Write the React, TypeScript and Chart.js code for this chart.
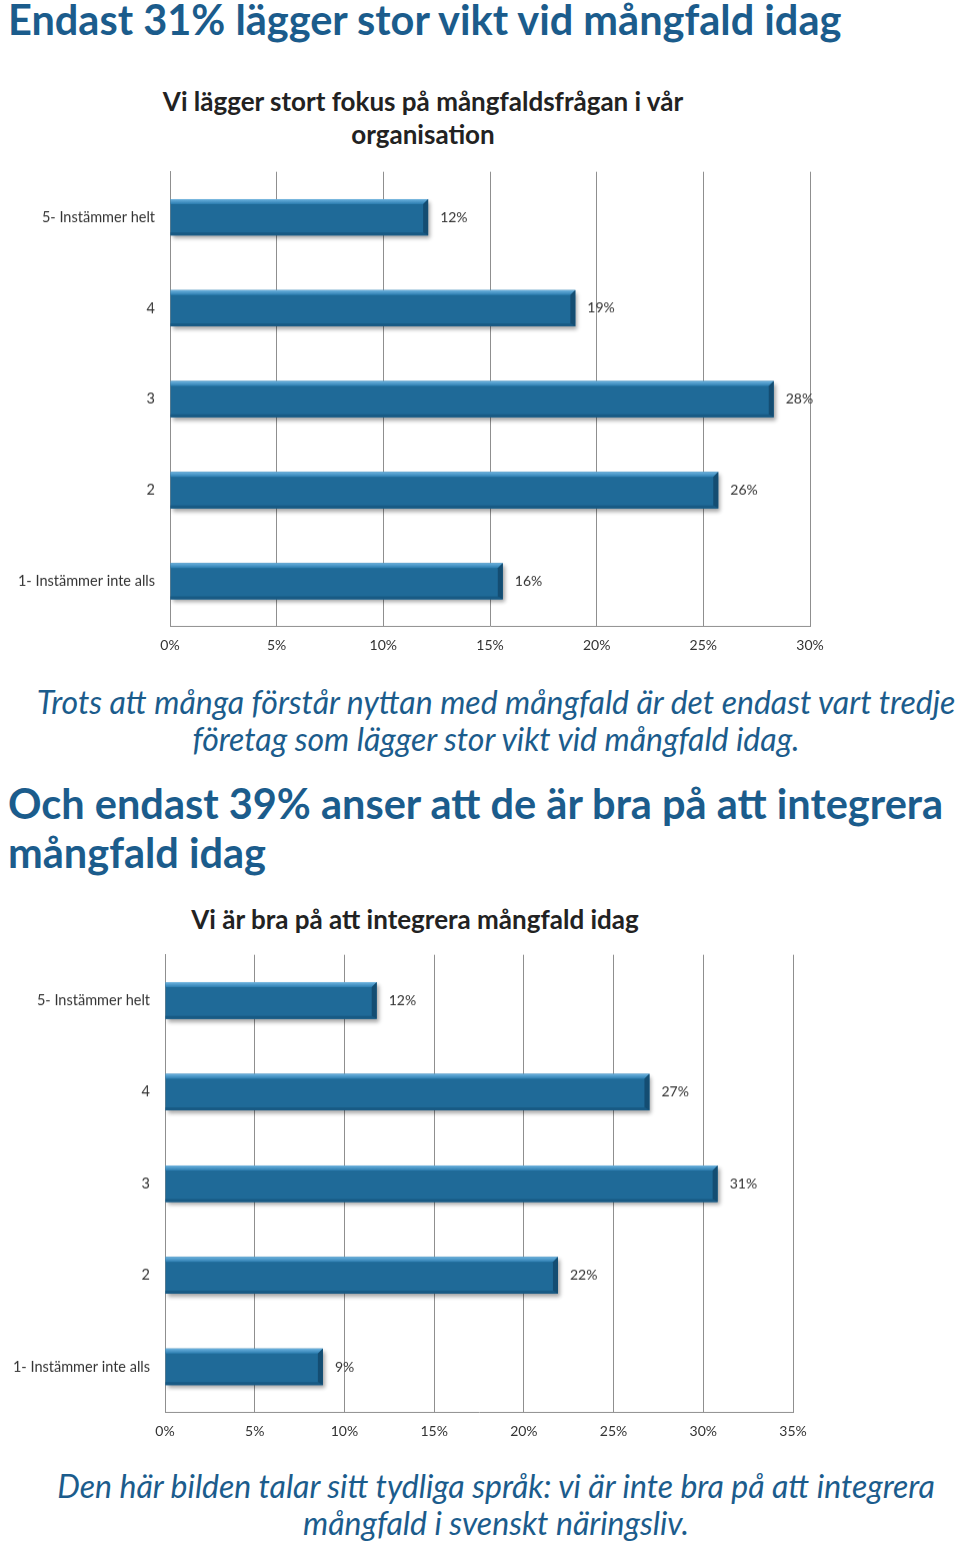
import React, { useEffect, useRef } from "react";
import { Chart, registerables } from "chart.js";

Chart.register(...registerables);

const categories = ["5- Instämmer helt", "4", "3", "2", "1- Instämmer inte alls"];
const focusValues = [12.1, 19.0, 28.3, 25.7, 15.6];
const integrateValues = [11.8, 27.0, 30.8, 21.9, 8.8];
const focusMax = 30;
const integrateMax = 35;
const tickStep = 5;

const BLUE_TEXT = "#1b5c8c";
const FONT = "Lato, 'Open Sans', sans-serif";
const X_AXIS_H = 44;

const bevelPlugin = {
  id: "bevel",
  beforeDatasetsDraw(chart: any) {
    const ctx = chart.ctx;
    ctx.save();
    ctx.shadowColor = "rgba(0,0,0,0.35)";
    ctx.shadowBlur = 4;
    ctx.shadowOffsetX = 2;
    ctx.shadowOffsetY = 3;
  },
  afterDatasetsDraw(chart: any) {
    const ctx = chart.ctx;
    ctx.restore();
    const meta = chart.getDatasetMeta(0);
    const data = chart.data.datasets[0].data as number[];
    meta.data.forEach((el: any, i: number) => {
      const p = el.getProps(["x", "y", "base", "height"], true);
      const top = p.y - p.height / 2;
      const bot = p.y + p.height / 2;
      const b = 5;
      ctx.save();
      const g = ctx.createLinearGradient(0, top, 0, top + b);
      g.addColorStop(0, "#6db3df");
      g.addColorStop(1, "#2c7db0");
      ctx.fillStyle = g;
      ctx.beginPath();
      ctx.moveTo(p.base, top);
      ctx.lineTo(p.x, top);
      ctx.lineTo(p.x - b, top + b);
      ctx.lineTo(p.base, top + b);
      ctx.closePath();
      ctx.fill();
      ctx.fillStyle = "#185a84";
      ctx.beginPath();
      ctx.moveTo(p.base, bot);
      ctx.lineTo(p.x, bot);
      ctx.lineTo(p.x - b, bot - 3);
      ctx.lineTo(p.base, bot - 3);
      ctx.closePath();
      ctx.fill();
      ctx.fillStyle = "#144d72";
      ctx.beginPath();
      ctx.moveTo(p.x, top);
      ctx.lineTo(p.x, bot);
      ctx.lineTo(p.x - b, bot - 3);
      ctx.lineTo(p.x - b, top + b);
      ctx.closePath();
      ctx.fill();
      ctx.fillStyle = "#333";
      ctx.font = `14px ${FONT}`;
      ctx.textAlign = "left";
      ctx.textBaseline = "middle";
      ctx.fillText(`${Math.round(data[i])}%`, p.x + 12, p.y);
      ctx.restore();
    });
  },
};

function BarChart({
  values,
  max,
  axisWidth,
  padRight,
  plotTop,
  plotBottom,
}: {
  values: number[];
  max: number;
  axisWidth: number;
  padRight: number;
  plotTop: number;
  plotBottom: number;
}) {
  const ref = useRef<HTMLCanvasElement>(null);
  const wrap = useRef<HTMLDivElement>(null);
  useEffect(() => {
    const chart = new Chart(ref.current!, {
      type: "bar",
      data: {
        labels: categories,
        datasets: [
          {
            data: values,
            backgroundColor: "#1f6a98",
            borderWidth: 0,
            barPercentage: 0.4,
            categoryPercentage: 1,
          },
        ],
      },
      options: {
        indexAxis: "y",
        animation: false,
        responsive: false,
        maintainAspectRatio: false,
        layout: { padding: { top: 0, right: padRight, left: 0, bottom: 0 } },
        plugins: { legend: { display: false }, tooltip: { enabled: false }, title: { display: false } },
        scales: {
          x: {
            min: 0,
            max: max,
            ticks: {
              stepSize: tickStep,
              padding: 10,
              color: "#333",
              font: { family: FONT, size: 14 },
              callback: (v: any) => `${v}%`,
            },
            grid: { color: "#8f8f8f", lineWidth: 1, drawTicks: false },
            border: { color: "#8f8f8f", width: 1 },
            afterFit: (s: any) => {
              s.height = X_AXIS_H;
            },
          },
          y: {
            ticks: { padding: 15, color: "#333", font: { family: FONT, size: 14.5 } },
            grid: { display: false, drawTicks: false },
            border: { color: "#8f8f8f", width: 1 },
            afterFit: (s: any) => {
              s.width = axisWidth;
            },
          },
        },
      },
      plugins: [bevelPlugin],
    } as any);
    const off = chart.chartArea.top;
    const top = plotTop - off;
    const h = plotBottom + X_AXIS_H - top;
    if (wrap.current) wrap.current.style.top = `${top}px`;
    chart.resize(960, h);
    return () => chart.destroy();
  }, []);
  return (
    <div ref={wrap} style={{ position: "absolute", top: plotTop, left: 0, width: 960 }}>
      <canvas ref={ref} width={960} height={plotBottom - plotTop + X_AXIS_H + 30} style={{ display: "block" }} />
    </div>
  );
}

const abs = (top: number, extra: React.CSSProperties = {}): React.CSSProperties => ({
  position: "absolute",
  top,
  left: 0,
  width: 960,
  whiteSpace: "nowrap",
  fontFamily: FONT,
  ...extra,
});

export default function App() {
  return (
    <div style={{ position: "absolute", top: 0, left: 0, width: 960, height: 1545, background: "#fff", overflow: "hidden" }}>
      <div style={abs(-3, { left: 8, fontSize: 41.5, lineHeight: "44px", fontWeight: 700, color: BLUE_TEXT })}>
        Endast 31% lägger stor vikt vid mångfald idag
      </div>
      <div style={abs(84.5, { width: 846, textAlign: "center", fontSize: 26, lineHeight: "33px", fontWeight: 700, color: "#222" })}>
        <div>Vi lägger stort fokus på mångfaldsfrågan i vår</div>
        <div>organisation</div>
      </div>
      <BarChart values={focusValues} max={focusMax} axisWidth={170} padRight={150} plotTop={172} plotBottom={626} />
      <div style={abs(683, { width: 992, textAlign: "center", fontSize: 32, lineHeight: "37px", fontStyle: "italic", color: BLUE_TEXT })}>
        <div>Trots att många förstår nyttan med mångfald är det endast vart tredje</div>
        <div>företag som lägger stor vikt vid mångfald idag.</div>
      </div>
      <div style={abs(779, { left: 8, fontSize: 41.5, lineHeight: "49px", fontWeight: 700, color: BLUE_TEXT })}>
        <div>Och endast 39% anser att de är bra på att integrera</div>
        <div>mångfald idag</div>
      </div>
      <div style={abs(902.5, { width: 830, textAlign: "center", fontSize: 26, lineHeight: "33px", fontWeight: 700, color: "#222" })}>
        Vi är bra på att integrera mångfald idag
      </div>
      <BarChart values={integrateValues} max={integrateMax} axisWidth={165} padRight={167} plotTop={955} plotBottom={1412} />
      <div style={abs(1467, { width: 992, textAlign: "center", fontSize: 32, lineHeight: "37px", fontStyle: "italic", color: BLUE_TEXT })}>
        <div>Den här bilden talar sitt tydliga språk: vi är inte bra på att integrera</div>
        <div>mångfald i svenskt näringsliv.</div>
      </div>
    </div>
  );
}
